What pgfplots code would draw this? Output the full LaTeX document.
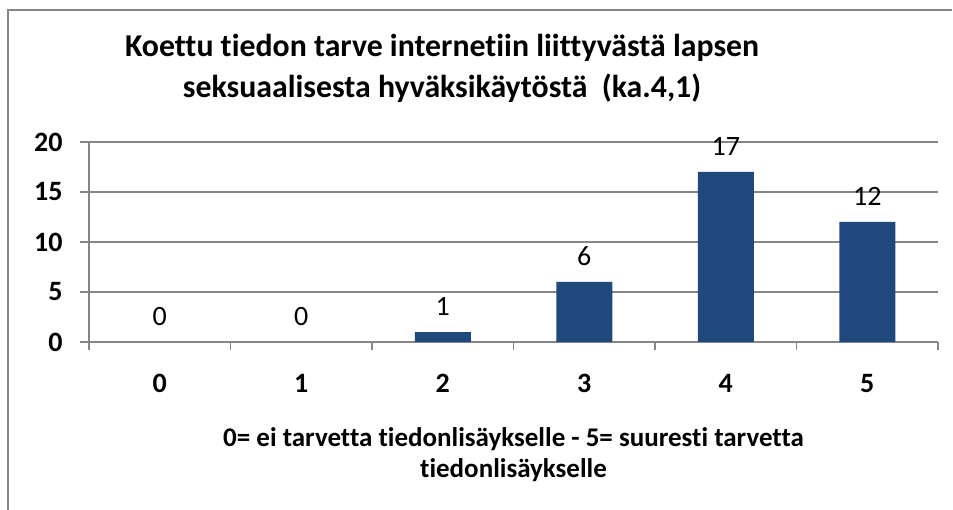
\documentclass[border=0pt]{standalone}
\usepackage{pgfplots}
\pgfplotsset{compat=1.18}
\usepackage{fontspec}
\setmainfont{Carlito}[Ligatures=NoCommon]
\definecolor{barblue}{RGB}{31,73,125}
\definecolor{axgray}{RGB}{134,134,134}
\begin{document}
\begin{tikzpicture}
\useasboundingbox (0,0) rectangle (953bp,510bp);
\draw[axgray, line width=1.5bp] (8bp,0) -- (8bp,500bp) -- (952bp,500bp);
\node[align=center, font=\fontsize{31.8bp}{41bp}\selectfont\bfseries] at (442bp,442bp)
  {Koettu tiedon tarve internetiin liittyvästä lapsen\\seksuaalisesta hyväksikäytöstä~~(ka.4,1)};
\begin{axis}[
  at={(89bp,168bp)}, anchor=south west,
  scale only axis, width=849bp, height=200bp,
  xmin=-0.5, xmax=5.5, ymin=0, ymax=20,
  axis x line*=bottom, axis y line*=left,
  axis line style={axgray, line width=1.5bp, -},
  xtick={0,1,2,3,4,5}, xticklabels={0,1,2,3,4,5},
  minor xtick={-0.5,0.5,1.5,2.5,3.5,4.5,5.5},
  ytick={0,5,10,15,20},
  tick align=outside,
  major x tick style={draw=none},
  minor tick length=8bp, major tick length=9bp,
  tick style={axgray, line width=1.5bp},
  ymajorgrids, grid style={axgray, line width=1.5bp},
  ticklabel style={font=\fontsize{28bp}{32bp}\selectfont\bfseries},
  /pgf/number format/assume math mode=true,
  xticklabel style={yshift=-20bp},
  yticklabel style={xshift=-14bp},
  xlabel={0= ei tarvetta tiedonlisäykselle - 5= suuresti tarvetta\\tiedonlisäykselle},
  xlabel style={align=center, font=\fontsize{27bp}{31bp}\selectfont\bfseries, yshift=-28bp},
  ybar, bar width=56bp,
  nodes near coords,
  every node near coord/.append style={font=\fontsize{28bp}{32bp}\selectfont, yshift=13bp},
]
\addplot[fill=barblue, draw=none] coordinates {(0,0) (1,0) (2,1) (3,6) (4,17) (5,12)};
\end{axis}
\end{tikzpicture}
\end{document}
